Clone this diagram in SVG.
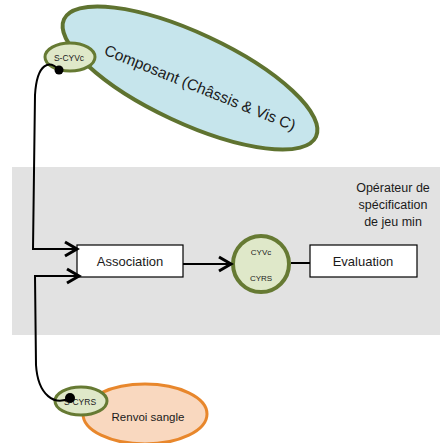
<svg xmlns="http://www.w3.org/2000/svg" width="440" height="443" viewBox="0 0 440 443">
<defs>
<style>
.box{fill:#ffffff;stroke:#000000;stroke-width:1.2}
.lbl{font-family:"Liberation Sans",Arial,sans-serif;fill:#1a1a1a;text-anchor:middle}
.green{fill:#dfe8c9;stroke:#667a33;stroke-width:3}
.conn{fill:none;stroke:#000000;stroke-width:2}
</style>
<marker id="chev" markerUnits="userSpaceOnUse" markerWidth="16" markerHeight="18" refX="13" refY="8" orient="auto" viewBox="0 0 16 16">
<path d="M1,1 L13,8 L1,15" fill="none" stroke="#000" stroke-width="3" stroke-linejoin="miter"/>
</marker>
</defs>
<rect x="0" y="0" width="440" height="443" fill="#ffffff"/>
<rect id="band" x="12" y="167" width="428" height="168" fill="#e2e2e2"/>

<g id="composant">
<ellipse cx="190" cy="78" rx="139" ry="45" transform="rotate(25 190 78)" fill="#c6e5ec" stroke="#5f7330" stroke-width="4"/>
<text class="lbl" x="200" y="93" font-size="15.5" transform="rotate(22 200 88)">Composant (Châssis &amp; Vis C)</text>
</g>
<g id="s-cyvc">
<ellipse class="green" cx="70" cy="57" rx="25" ry="14"/>
<text class="lbl" x="69" y="61" font-size="8.5">S-CYVc</text>
</g>

<g id="renvoi">
<ellipse cx="145" cy="414" rx="62" ry="30" fill="#f9d8bf" stroke="#e8872c" stroke-width="3"/>
<text class="lbl" x="148" y="421" font-size="11.5">Renvoi sangle</text>
</g>
<g id="s-cyrs">
<ellipse class="green" cx="81" cy="401" rx="26" ry="14"/>
<text class="lbl" x="80" y="405" font-size="8.5">S-CYRS</text>
</g>

<g id="association">
<rect class="box" x="77" y="245" width="106" height="32"/>
<text class="lbl" x="130" y="266" font-size="13">Association</text>
</g>
<g id="operateur">
<circle cx="261" cy="264" r="28" fill="#dfe8c9" stroke="#667a33" stroke-width="4"/>
<text class="lbl" x="261" y="255" font-size="8">CYVc</text>
<text class="lbl" x="261" y="281" font-size="8">CYRS</text>
</g>
<g id="evaluation">
<rect class="box" x="310" y="245" width="107" height="32"/>
<text class="lbl" x="363" y="266" font-size="13">Evaluation</text>
</g>
<g id="note">
<text class="lbl" font-size="12.5"><tspan x="393" y="192">Opérateur de</tspan><tspan x="393" y="209">spécification</tspan><tspan x="393" y="226">de jeu min</tspan></text>
</g>

<g id="connectors">
<path class="conn" d="M59,70 C50,60 37,62 35,95 L33,249 L77,249" marker-end="url(#chev)"/>
<path class="conn" d="M70,398 C55,406 38,396 36,365 L35,276 L79,276" marker-end="url(#chev)"/>
<path class="conn" d="M183,264 L231,264" marker-end="url(#chev)"/>
<path class="conn" d="M291,263 L310,263" stroke-width="1.5"/>
<circle cx="59" cy="70" r="4.5" fill="#000"/>
<circle cx="70" cy="398" r="5" fill="#000"/>
</g>
</svg>
